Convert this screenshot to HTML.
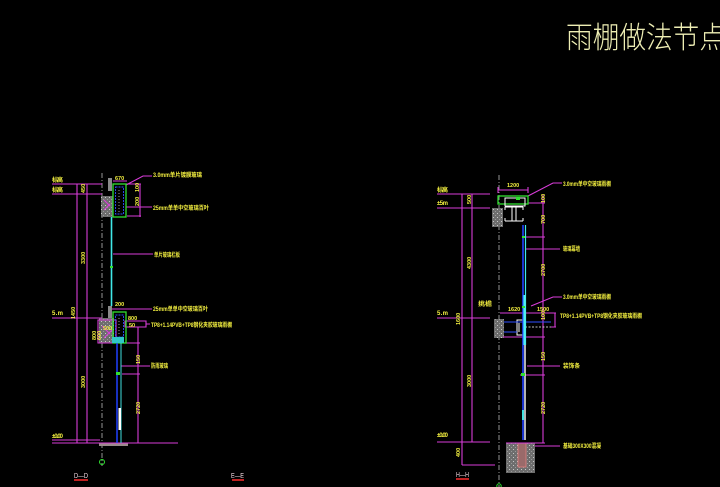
<!DOCTYPE html>
<html><head><meta charset="utf-8">
<style>
html,body{margin:0;padding:0;background:#000;overflow:hidden;}
svg{display:block}
.t{font-family:"Liberation Sans","Noto Sans CJK SC",sans-serif;fill:#f4f040;font-size:6px;font-weight:bold;}
.d{font-family:"Liberation Sans",sans-serif;fill:#f4f040;font-size:5.5px;font-weight:bold;}
.s{font-family:"Liberation Sans",sans-serif;fill:#f0d8e0;font-size:7.5px;}
</style></head><body>
<svg width="720" height="487" viewBox="0 0 720 487" xmlns="http://www.w3.org/2000/svg">
<defs>
<pattern id="dots" width="4" height="4" patternUnits="userSpaceOnUse">
<rect width="4" height="4" fill="#6e6e6e"/>
<rect x="1" y="1" width="1" height="1" fill="#c8c8c8"/>
<rect x="3" y="3" width="1" height="1" fill="#999"/>
</pattern>
</defs>
<rect width="720" height="487" fill="#000"/>

<!-- Title -->
<text x="566" y="48" font-family="'Noto Sans CJK SC','WenQuanYi Zen Hei',sans-serif" font-size="30" font-weight="300" fill="#eeeeb4" textLength="160" lengthAdjust="spacingAndGlyphs">雨棚做法节点</text>

<!-- ================= LEFT DRAWING (D-D) ================= -->
<path d="M102 173V466" stroke="#b8b8b8" stroke-width="0.8" stroke-dasharray="5,2,1,2" fill="none"/>

<rect x="108" y="178" width="4" height="13" fill="#8a8a8a"/>
<rect x="101" y="196" width="12" height="21" fill="url(#dots)"/>
<rect x="108" y="306" width="4" height="12" fill="#8a8a8a"/>
<rect x="99" y="318" width="15" height="25" fill="url(#dots)"/>
<rect x="99" y="443" width="29" height="3" fill="#9a8a8a"/>

<g stroke="#d83cd8" stroke-width="1.1" fill="none">
 <path d="M52 184H102 M52 194H102 M52 318H102 M52 440H100 M52 443H178"/>
 <path d="M77 184V443 M87 184V443"/>
 <path d="M113 181H127 M126 185L143 176H152 M126 184H141 M126 207H152 M127 216H141 M140 184V217"/>
 <path d="M113 254H153"/>
 <path d="M112 309H152 M98 320H116V343H98Z M125 321H146V327H125Z M146 324H150"/>
 <path d="M138 327V443 M126 343H140 M121 366H150 M122 374H140"/>
 <path d="M104 200L110 206 M104 210L110 204 M102 326L110 334 M104 338L112 330"/>
</g>
<rect x="113" y="184" width="13" height="33" fill="none" stroke="#30e030" stroke-width="1.3"/>
<rect x="115.5" y="187" width="8" height="27" fill="none" stroke="#3050ff" stroke-width="0.9" stroke-dasharray="2,1"/>
<rect x="113" y="312" width="13" height="31" fill="none" stroke="#30e030" stroke-width="1.3"/>
<rect x="115.5" y="315" width="8" height="22" fill="none" stroke="#3050ff" stroke-width="0.9" stroke-dasharray="2,1"/>
<path d="M119 190V212 M119 318V334" stroke="#ffffff" stroke-width="0.6" stroke-dasharray="1,2"/>
<path d="M111.5 217V306" stroke="#40e8e8" stroke-width="1.6"/>
<rect x="110" y="266" width="3" height="2" fill="#30e030"/>
<rect x="112" y="337" width="12" height="6" fill="#30c8c8"/>
<path d="M117 343V443" stroke="#2040ff" stroke-width="1.5"/>
<path d="M121 343V443" stroke="#40e0e0" stroke-width="1"/>
<rect x="118.5" y="408" width="2.5" height="22" fill="#ffffff"/>
<rect x="116" y="372" width="4" height="3" fill="#30e030"/>
<circle cx="102" cy="462" r="2.5" fill="none" stroke="#30e030" stroke-width="1"/>

<text class="t" x="52" y="182" textLength="11">标高</text>
<text class="t" x="52" y="192" textLength="11">标高</text>
<text class="t" x="52" y="315" textLength="11">5.m</text>
<text class="t" x="52" y="438" textLength="11">±0.00</text>
<text class="d" transform="translate(85,193) rotate(-90)">450</text>
<text class="d" transform="translate(85,264) rotate(-90)">3300</text>
<text class="d" transform="translate(85,388) rotate(-90)">3000</text>
<text class="d" transform="translate(75,319) rotate(-90)">1450</text>
<text class="d" transform="translate(96,340) rotate(-90)">800</text>
<text class="d" transform="translate(101,340) rotate(-90)">600</text>
<text class="d" transform="translate(139,192) rotate(-90)">100</text>
<text class="d" transform="translate(139,206) rotate(-90)">200</text>
<text class="d" transform="translate(140,364) rotate(-90)">150</text>
<text class="d" transform="translate(140,414) rotate(-90)">2720</text>
<text class="d" x="115" y="180">670</text>
<text class="d" x="115" y="306">200</text>
<text class="d" x="103" y="330">500</text>
<text class="d" x="128" y="320">800</text>
<text class="d" x="129" y="327">50</text>
<text class="t" x="153" y="177" textLength="49" lengthAdjust="spacingAndGlyphs">3.0mm单片镀膜玻璃</text>
<text class="t" x="153" y="210" textLength="56" lengthAdjust="spacingAndGlyphs">25mm单单中空玻璃百叶</text>
<text class="t" x="154" y="257" textLength="26" lengthAdjust="spacingAndGlyphs">单片玻璃栏板</text>
<text class="t" x="153" y="311" textLength="55" lengthAdjust="spacingAndGlyphs">25mm单单中空玻璃百叶</text>
<text class="t" x="151" y="327" textLength="81" lengthAdjust="spacingAndGlyphs">TP8+1.14PVB+TP8钢化夹胶玻璃雨棚</text>
<text class="t" x="151" y="368" textLength="17" lengthAdjust="spacingAndGlyphs">防雨玻璃</text>

<text class="s" x="74" y="478" textLength="14" lengthAdjust="spacingAndGlyphs">D—D</text>
<rect x="74" y="479" width="14" height="2" fill="#c02020"/>
<text class="s" x="231" y="478" textLength="13" lengthAdjust="spacingAndGlyphs">E—E</text>
<rect x="232" y="479" width="12" height="2" fill="#c02020"/>

<!-- ================= RIGHT DRAWING (H-H) ================= -->
<path d="M499 175V487" stroke="#b8b8b8" stroke-width="0.8" stroke-dasharray="5,2,1,2" fill="none"/>

<rect x="492" y="208" width="11" height="19" fill="url(#dots)"/>
<rect x="494" y="319" width="10" height="19" fill="url(#dots)"/>
<rect x="506" y="443" width="29" height="30" fill="url(#dots)"/>
<rect x="518" y="443" width="8" height="24" fill="#9a6a6a" stroke="#e08080" stroke-width="0.8"/>

<g stroke="#d83cd8" stroke-width="1.1" fill="none">
 <path d="M437 194H490 M437 208H490 M437 318H490 M437 442H490 M462 465H495"/>
 <path d="M462 194V465 M472 194V442"/>
 <path d="M498 190H528 M498 187V193 M528 187V193"/>
 <path d="M528 196L553 183H562 M528 203H545 M523 237H545 M543 195V443"/>
 <path d="M525 249H560 M531 306L553 297H562"/>
 <path d="M500 313H556 M555 313V327 M551 327H556 M503 337H545"/>
 <path d="M527 366H560 M520 375H545 M506 443H545 M535 446H560"/>
</g>
<rect x="498" y="196" width="30" height="8" fill="none" stroke="#30e030" stroke-width="1.3"/>
<g stroke="#ffffff" stroke-width="1" fill="none">
 <rect x="505" y="198" width="20" height="8"/>
 <path d="M505 207H523 M505 221H523 M512 207V221 M516 207V221 M505 207V210 M505 218V221 M523 207V210 M523 218V221"/>
 <path d="M517 320H523V335H517Z M519 323V332"/>
</g>
<path d="M504 322H551" stroke="#3050ff" stroke-width="1"/>
<path d="M525 327H551" stroke="#ffffff" stroke-width="0.8" stroke-dasharray="2,1.5"/>
<path d="M504 332H517" stroke="#3050ff" stroke-width="1"/>
<path d="M523 225V440" stroke="#2040ff" stroke-width="1.6"/>
<path d="M525.5 225V345" stroke="#40e8e8" stroke-width="1.2"/>
<path d="M524.5 295V345" stroke="#50f0f0" stroke-width="2.2"/>
<path d="M525 345V440" stroke="#ffffff" stroke-width="1.4"/>
<path d="M523 410V420" stroke="#40e0e0" stroke-width="2"/>
<rect x="516" y="197" width="4" height="3" fill="#30e030"/>
<rect x="522" y="236" width="3" height="2" fill="#30e030"/>
<rect x="522" y="306" width="3" height="2" fill="#30e030"/>
<rect x="521" y="373" width="4" height="3" fill="#30e030"/>
<circle cx="499" cy="486" r="2.2" fill="none" stroke="#30e030" stroke-width="1"/>

<text class="t" x="437" y="192" textLength="11">标高</text>
<text class="t" x="437" y="205" textLength="11">±5m</text>
<text class="t" x="437" y="315" textLength="11">5.m</text>
<text class="t" x="437" y="437" textLength="11">±0.00</text>
<text class="t" x="478" y="306" textLength="14" lengthAdjust="spacingAndGlyphs">挑檐</text>
<text class="d" transform="translate(471,204) rotate(-90)">500</text>
<text class="d" transform="translate(471,269) rotate(-90)">4300</text>
<text class="d" transform="translate(471,387) rotate(-90)">3000</text>
<text class="d" transform="translate(460,325) rotate(-90)">1600</text>
<text class="d" transform="translate(460,457) rotate(-90)">400</text>
<text class="d" transform="translate(545,203) rotate(-90)">100</text>
<text class="d" transform="translate(545,224) rotate(-90)">700</text>
<text class="d" transform="translate(545,276) rotate(-90)">2700</text>
<text class="d" transform="translate(545,320) rotate(-90)">100</text>
<text class="d" transform="translate(545,361) rotate(-90)">150</text>
<text class="d" transform="translate(545,414) rotate(-90)">2720</text>
<text class="d" x="507" y="187">1200</text>
<text class="d" x="508" y="311">1620</text>
<text class="d" x="537" y="311">1500</text>
<text class="t" x="563" y="186" textLength="48" lengthAdjust="spacingAndGlyphs">3.0mm单中空玻璃雨棚</text>
<text class="t" x="563" y="251" textLength="17" lengthAdjust="spacingAndGlyphs">玻璃幕墙</text>
<text class="t" x="563" y="299" textLength="48" lengthAdjust="spacingAndGlyphs">3.0mm单中空玻璃雨棚</text>
<text class="t" x="560" y="318" textLength="82" lengthAdjust="spacingAndGlyphs">TP8+1.14PVB+TP8钢化夹胶玻璃雨棚</text>
<text class="t" x="563" y="368" textLength="17" lengthAdjust="spacingAndGlyphs">装饰条</text>
<text class="t" x="563" y="448" textLength="38" lengthAdjust="spacingAndGlyphs">基础300X300混凝</text>

<text class="s" x="456" y="477" textLength="13" lengthAdjust="spacingAndGlyphs">H—H</text>
<rect x="456" y="478" width="13" height="2" fill="#c02020"/>
</svg>
</body></html>
